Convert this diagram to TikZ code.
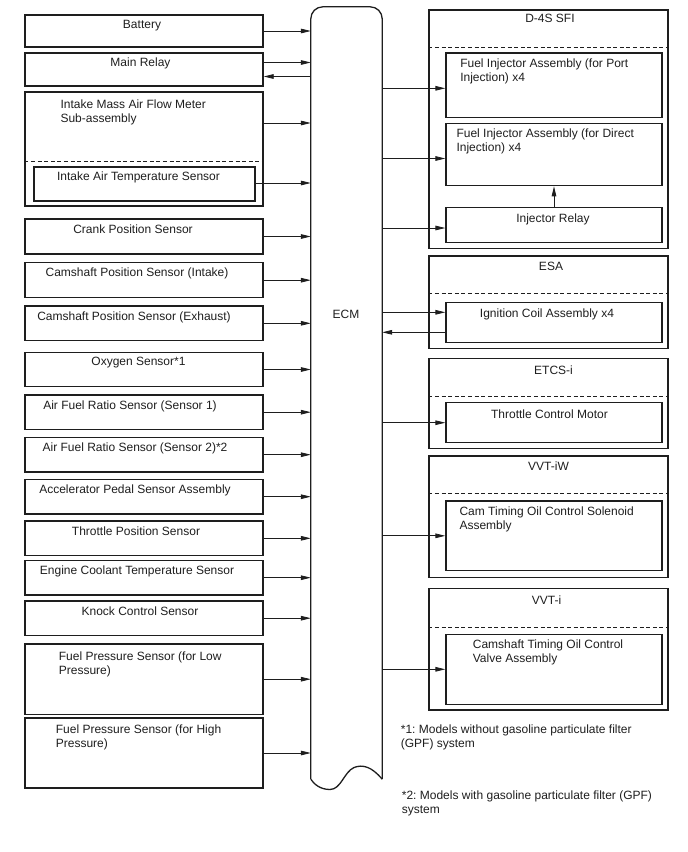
\documentclass[tikz,border=0pt]{standalone}
\usepackage{fontspec}
\setmainfont{Liberation Sans}
\usetikzlibrary{arrows.meta,positioning}
\definecolor{ink}{HTML}{1E1E1E}
\frenchspacing

\begin{document}
\begin{tikzpicture}[
    x=1pt,y=-1pt,
    font=\fontsize{12}{14}\selectfont,
    box/.style={draw=ink,line width=1.3pt,minimum width=238pt,inner sep=0pt},
    sub/.style={draw=ink,line width=1.3pt,minimum width=216pt,inner sep=0pt},
    grp/.style={draw=ink,line width=1.3pt,minimum width=239pt,inner sep=0pt},
    txt/.style={inner sep=0pt,align=left,text=ink},
    sep/.style={draw=ink,line width=1.1pt,dash pattern=on 4pt off 2.6pt},
    ecmline/.style={draw=ink,line width=1.3pt},
    arrow/.style={-{Triangle[length=10pt,width=4.6pt]},line width=0.8pt,color=ink}
  ]
    \useasboundingbox (0,0) rectangle (688,852);

    % ECM
    \node[minimum width=71pt,minimum height=772pt,inner sep=0pt] (ecm) at (346.5,393) {};
    \draw[ecmline,rounded corners=12pt] (ecm.south west) -- (ecm.north west) -- (ecm.north east) -- (ecm.south east);
    \draw[ecmline] (ecm.south east) .. controls (372,767) and (363,764) .. (354,767.5)
      .. controls (344,772) and (341,789.5) .. (330,789.5)
      .. controls (320,789.5) and (314,784) .. (ecm.south west);
    \node[txt] (ecmT) at (346,314) {ECM};

    % inputs
    \node[box,minimum height=32pt] (batt) at (144,31) {};
    \node[box,minimum height=33pt] (mainrly) at (144,69.5) {};
    \node[box,minimum height=114pt] (maf) at (144,149) {};
    \node[box,minimum width=221pt,minimum height=34pt] (iat) at (144.5,184) {};
    \node[box,minimum height=35pt] (crank) at (144,236.5) {};
    \node[box,minimum height=35pt] (camin) at (144,280.2) {};
    \node[box,minimum height=34.7pt] (camex) at (144,323.3) {};
    \node[box,minimum height=34.4pt] (oxs) at (144,369.5) {};
    \node[box,minimum height=34.3pt] (afr1) at (144,412.2) {};
    \node[box,minimum height=34.7pt] (afr2) at (144,454.7) {};
    \node[box,minimum height=34.7pt] (accel) at (144,496.7) {};
    \node[box,minimum height=34.7pt] (tps) at (144,538.3) {};
    \node[box,minimum height=34.7pt] (ect) at (144,577.7) {};
    \node[box,minimum height=34.3pt] (knock) at (144,618.2) {};
    \node[box,minimum height=70.3pt] (fpl) at (144,679.2) {};
    \node[box,minimum height=70pt] (fph) at (144,753) {};
    \draw[sep] (maf.west |- 0,161.7) -- (maf.east |- 0,161.7);

    \node[txt,below=5.7pt of batt.north,xshift=-2pt] (battT) {Battery};
    \node[txt,below=5.7pt of mainrly.north,xshift=-3.5pt] (mainrlyT) {Main Relay};
    \node[txt,below right=8.5pt and 36pt of maf.north west] (mafT) {Intake Mass Air Flow Meter\\Sub-assembly};
    \node[txt,below=5.7pt of iat.north,xshift=-6pt] (iatT) {Intake Air Temperature Sensor};
    \node[txt,below=6pt of crank.north,xshift=-11pt] (crankT) {Crank Position Sensor};
    \node[txt,below=6pt of camin.north,xshift=-7pt] (caminT) {Camshaft Position Sensor (Intake)};
    \node[txt,below=6pt of camex.north,xshift=-10pt] (camexT) {Camshaft Position Sensor (Exhaust)};
    \node[txt,below=5.5pt of oxs.north,xshift=-5.5pt] (oxsT) {Oxygen Sensor*1};
    \node[txt,below=6pt of afr1.north,xshift=-14pt] (afr1T) {Air Fuel Ratio Sensor (Sensor 1)};
    \node[txt,below=6pt of afr2.north,xshift=-9pt] (afr2T) {Air Fuel Ratio Sensor (Sensor 2)*2};
    \node[txt,below=6pt of accel.north,xshift=-9pt] (accelT) {Accelerator Pedal Sensor Assembly};
    \node[txt,below=6pt of tps.north,xshift=-8pt] (tpsT) {Throttle Position Sensor};
    \node[txt,below=6pt of ect.north,xshift=-7pt] (ectT) {Engine Coolant Temperature Sensor};
    \node[txt,below=6pt of knock.north,xshift=-4pt] (knockT) {Knock Control Sensor};
    \node[txt,below right=7.7pt and 34.3pt of fpl.north west] (fplT) {Fuel Pressure Sensor (for Low\\Pressure)};
    \node[txt,below right=7.7pt and 31.3pt of fph.north west] (fphT) {Fuel Pressure Sensor (for High\\Pressure)};

    \draw[arrow] (batt) -- (batt -| ecm.west);
    \draw[arrow] ([yshift=7pt]mainrly.east) -- ([yshift=7pt]mainrly.east -| ecm.west);
    \draw[arrow] ([yshift=-7pt]mainrly.east -| ecm.west) -- ([yshift=-7pt]mainrly.east);
    \draw[arrow] ([yshift=26pt]maf.east) -- ([yshift=26pt]maf.east -| ecm.west);
    \draw[arrow] ([yshift=1pt]iat.east) -- ([yshift=1pt]iat.east -| ecm.west);
    \draw[arrow] (crank) -- (crank -| ecm.west);
    \draw[arrow] (camin) -- (camin -| ecm.west);
    \draw[arrow] (camex) -- (camex -| ecm.west);
    \draw[arrow] (oxs) -- (oxs -| ecm.west);
    \draw[arrow] (afr1) -- (afr1 -| ecm.west);
    \draw[arrow] (afr2) -- (afr2 -| ecm.west);
    \draw[arrow] (accel) -- (accel -| ecm.west);
    \draw[arrow] (tps) -- (tps -| ecm.west);
    \draw[arrow] (ect) -- (ect -| ecm.west);
    \draw[arrow] (knock) -- (knock -| ecm.west);
    \draw[arrow] (fpl) -- (fpl -| ecm.west);
    \draw[arrow] (fph) -- (fph -| ecm.west);

    % outputs
    \node[grp,minimum height=238.3pt] (sfi) at (548.5,129.2) {};
    \node[grp,minimum height=92.3pt] (esa) at (548.5,302.2) {};
    \node[grp,minimum height=90pt] (etcs) at (548.5,403.3) {};
    \node[grp,minimum height=121.3pt] (vvtiw) at (548.5,516.7) {};
    \node[grp,minimum height=121.7pt] (vvti) at (548.5,649.2) {};
    \draw[sep] (sfi.west |- 0,47.3) -- (sfi.east |- 0,47.3);
    \draw[sep] (esa.west |- 0,293.3) -- (esa.east |- 0,293.3);
    \draw[sep] (etcs.west |- 0,396.7) -- (etcs.east |- 0,396.7);
    \draw[sep] (vvtiw.west |- 0,493.3) -- (vvtiw.east |- 0,493.3);
    \draw[sep] (vvti.west |- 0,627.7) -- (vvti.east |- 0,627.7);

    \node[sub,minimum height=64.7pt] (port) at (554,85.3) {};
    \node[sub,minimum height=62.4pt] (direct) at (554,154.5) {};
    \node[sub,minimum height=35.4pt] (injrly) at (554,225) {};
    \node[sub,minimum height=40pt] (ign) at (554,322.3) {};
    \node[sub,minimum height=40pt] (tcm) at (554,422.7) {};
    \node[sub,minimum height=69.7pt] (ocvsol) at (554,535.8) {};
    \node[sub,minimum height=70pt] (ocvvlv) at (554,669.3) {};

    \node[txt,below=5pt of sfi.north,xshift=1.5pt] (sfiT) {D-4S SFI};
    \node[txt,below=6.5pt of esa.north,xshift=2.5pt] (esaT) {ESA};
    \node[txt,below=8pt of etcs.north,xshift=5pt] (etcsT) {ETCS-i};
    \node[txt,below=6.5pt of vvtiw.north] (vvtiwT) {VVT-iW};
    \node[txt,below=8pt of vvti.north,xshift=-2pt] (vvtiT) {VVT-i};
    \node[txt,below right=6.3pt and 14.7pt of port.north west] (portT) {Fuel Injector Assembly (for Port\\Injection) x4};
    \node[txt,below right=6pt and 11pt of direct.north west] (directT) {Fuel Injector Assembly (for Direct\\Injection) x4};
    \node[txt,below=7pt of injrly.north,xshift=-1pt] (injrlyT) {Injector Relay};
    \node[txt,below=7pt of ign.north,xshift=-7pt] (ignT) {Ignition Coil Assembly x4};
    \node[txt,below=7.3pt of tcm.north,xshift=-4.5pt] (tcmT) {Throttle Control Motor};
    \node[txt,below right=6.3pt and 14pt of ocvsol.north west] (ocvsolT) {Cam Timing Oil Control Solenoid\\Assembly};
    \node[txt,below right=5.7pt and 27.3pt of ocvvlv.north west] (ocvvlvT) {Camshaft Timing Oil Control\\Valve Assembly};

    \draw[arrow] ([yshift=-3pt]port.west -| ecm.east) -- ([yshift=-3pt]port.west);
    \draw[arrow] ([yshift=-4pt]direct.west -| ecm.east) -- ([yshift=-4pt]direct.west);
    \draw[arrow] ([yshift=-3pt]injrly.west -| ecm.east) -- ([yshift=-3pt]injrly.west);
    \draw[arrow] (injrly) -- (direct);
    \draw[arrow] ([yshift=10pt]ign.west -| ecm.east) -- ([yshift=10pt]ign.west);
    \draw[arrow] ([yshift=-10pt]ign.west) -- ([yshift=-10pt]ign.west -| ecm.east);
    \draw[arrow] (tcm.west -| ecm.east) -- (tcm.west);
    \draw[arrow] (ocvsol.west -| ecm.east) -- (ocvsol.west);
    \draw[arrow] (ocvvlv.west -| ecm.east) -- (ocvvlv.west);

    % notes
    \node[txt,anchor=north west] (note1) at (400.7,724.3) {*1: Models without gasoline particulate filter\\(GPF) system};
    \node[txt,anchor=north west] (note2) at (401.7,791) {*2: Models with gasoline particulate filter (GPF)\\system};
  \end{tikzpicture}
\end{document}
